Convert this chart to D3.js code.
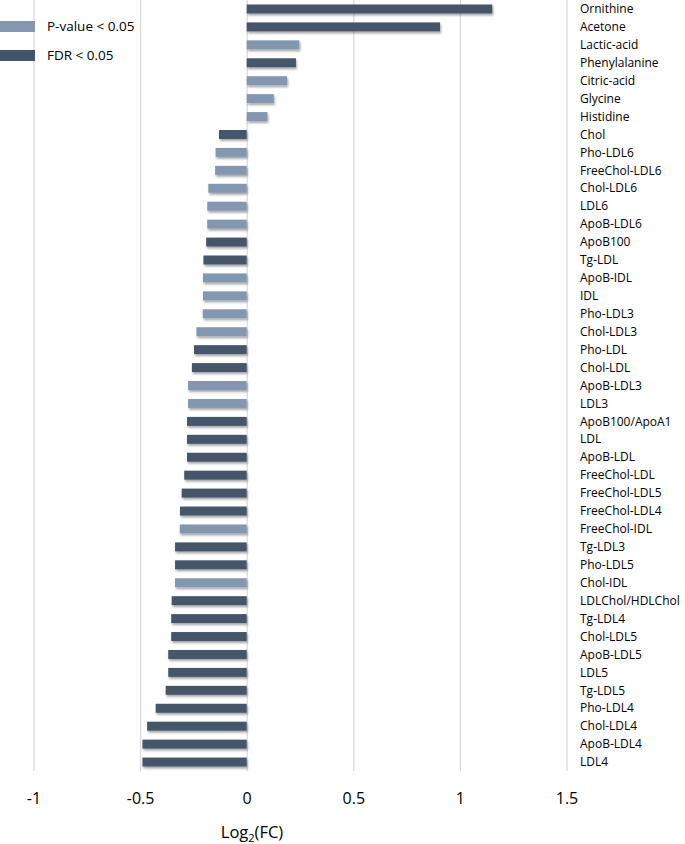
<!DOCTYPE html>
<html>
<head>
<meta charset="utf-8">
<script src="https://cdn.jsdelivr.net/npm/d3@7"></script>
<style>
  body { margin: 0; background: #fff; }
  svg { font-family: "Open Sans", sans-serif; }
</style>
</head>
<body>
<div id="chart_container"></div>
<script>
// Data
var metabolites = ["Ornithine", "Acetone", "Lactic-acid", "Phenylalanine", "Citric-acid", "Glycine", "Histidine",
  "Chol", "Pho-LDL6", "FreeChol-LDL6", "Chol-LDL6", "LDL6", "ApoB-LDL6", "ApoB100", "Tg-LDL", "ApoB-IDL", "IDL",
  "Pho-LDL3", "Chol-LDL3", "Pho-LDL", "Chol-LDL", "ApoB-LDL3", "LDL3", "ApoB100/ApoA1", "LDL", "ApoB-LDL",
  "FreeChol-LDL", "FreeChol-LDL5", "FreeChol-LDL4", "FreeChol-IDL", "Tg-LDL3", "Pho-LDL5", "Chol-IDL",
  "LDLChol/HDLChol", "Tg-LDL4", "Chol-LDL5", "ApoB-LDL5", "LDL5", "Tg-LDL5", "Pho-LDL4", "Chol-LDL4",
  "ApoB-LDL4", "LDL4"];

var log2fc = [1.152, 0.907, 0.247, 0.231, 0.189, 0.127, 0.097,
  -0.13, -0.146, -0.148, -0.18, -0.185, -0.185, -0.19, -0.203, -0.205, -0.205,
  -0.206, -0.236, -0.247, -0.257, -0.275, -0.275, -0.28, -0.28, -0.28,
  -0.293, -0.305, -0.313, -0.314, -0.336, -0.336, -0.336,
  -0.352, -0.354, -0.354, -0.368, -0.368, -0.38, -0.427, -0.467,
  -0.489, -0.489];

// "fdr" = FDR < 0.05, "p" = P-value < 0.05
var significance = ["fdr", "fdr", "p", "fdr", "p", "p", "p",
  "fdr", "p", "p", "p", "p", "p", "fdr", "fdr", "p", "p",
  "p", "p", "fdr", "fdr", "p", "p", "fdr", "fdr", "fdr",
  "fdr", "fdr", "fdr", "p", "fdr", "fdr", "p",
  "fdr", "fdr", "fdr", "fdr", "fdr", "fdr", "fdr", "fdr",
  "fdr", "fdr"];

var legend_keys = ["p", "fdr"];
var legend_labels = ["P-value < 0.05", "FDR < 0.05"];
var x_ticks = [-1, -0.5, 0, 0.5, 1, 1.5];

// Chart dimensions
var width = 685
var height = 844
var plot_left = 33.5
var plot_right = 566.5
var plot_bottom = 771

// Scales
var x_scale = d3.scaleLinear()
    .domain([-1, 1.5])
    .range([plot_left, plot_right]);

var y_scale = d3.scaleBand()
    .domain(metabolites)
    .range([0, plot_bottom])
    .paddingInner(0.5)
    .paddingOuter(0.25);

var c_scale = d3.scaleOrdinal()
    .domain(["p", "fdr"])
    .range(["#8497b0", "#44546a"]);

var svg = d3.select("#chart_container")
    .append("svg")
    .attr("width", width)
    .attr("height", height);

// Bar shadow
var defs = svg.append("defs");
defs.append("filter")
    .attr("id", "shadow")
    .attr("x", "-10%").attr("y", "-50%")
    .attr("width", "120%").attr("height", "220%")
    .append("feDropShadow")
    .attr("dx", 1)
    .attr("dy", 2)
    .attr("stdDeviation", 1.1)
    .attr("flood-color", "#000")
    .attr("flood-opacity", 0.35);

// Gridlines + tick labels
var x_axis = d3.axisBottom(x_scale)
    .tickValues(x_ticks)
    .tickFormat(function(d) { return String(d); })
    .tickSize(-plot_bottom)
    .tickPadding(22);

var gx = svg.append("g")
    .attr("transform", "translate(0," + plot_bottom + ")")
    .call(x_axis);
gx.select(".domain").remove();
gx.selectAll("line").attr("stroke", "#d9d9d9").attr("stroke-width", 1.2);
gx.selectAll("text")
    .style("font-size", "16px")
    .style("font-family", "Open Sans, sans-serif")
    .attr("fill", "#000");

// Bars
svg.append("g")
    .selectAll("rect")
    .data(metabolites)
    .enter()
    .append("rect")
    .attr("x", function(d, i) { return Math.min(x_scale(0), x_scale(log2fc[i])); })
    .attr("y", function(d) { return y_scale(d); })
    .attr("width", function(d, i) { return Math.abs(x_scale(log2fc[i]) - x_scale(0)); })
    .attr("height", y_scale.bandwidth())
    .attr("fill", function(d, i) { return c_scale(significance[i]); })
    .attr("filter", "url(#shadow)");

// Category labels
svg.append("g")
    .selectAll("text")
    .data(metabolites)
    .enter()
    .append("text")
    .attr("x", 580)
    .attr("y", function(d) { return y_scale(d) + y_scale.bandwidth() / 2; })
    .attr("dy", "0.35em")
    .style("font-size", "12px")
    .attr("fill", "#000")
    .text(function(d) { return d; });

// Legend
var legend = svg.append("g");
legend_keys.forEach(function(k, i) {
    legend.append("rect")
        .attr("x", 0)
        .attr("y", 21 + i * 29)
        .attr("width", 35)
        .attr("height", 11)
        .attr("fill", c_scale(k));
    legend.append("text")
        .attr("x", 47)
        .attr("y", 26.5 + i * 29)
        .attr("dy", "0.35em")
        .style("font-size", "13.5px")
        .attr("fill", "#000")
        .text(legend_labels[i]);
});

// Axis title
var title = svg.append("text")
    .attr("x", 252)
    .attr("y", 838)
    .style("text-anchor", "middle")
    .style("font-size", "16.5px")
    .attr("fill", "#000");
title.append("tspan").text("Log");
title.append("tspan").attr("dy", 4).style("font-size", "11px").text("2");
title.append("tspan").attr("dy", -4).text("(FC)");
</script>
</body>
</html>
